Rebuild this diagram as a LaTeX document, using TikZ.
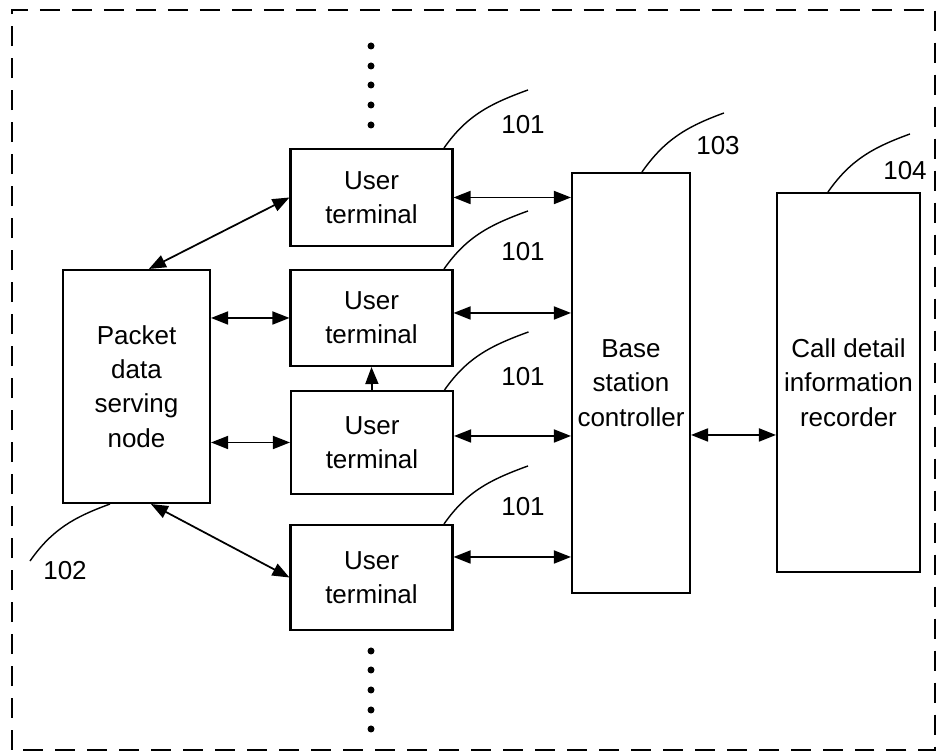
\documentclass[tikz,border=0pt]{standalone}
\usepackage{fontspec}
\setmainfont{Liberation Sans}
\usetikzlibrary{arrows.meta}

\begin{document}
\begin{tikzpicture}[x=0.02cm, y=0.02cm,
  font=\fontsize{14.8}{19.5}\selectfont,
  >={Triangle[length=0.34cm,width=0.26cm]},
  box/.style={draw, line width=1.2pt, align=center, inner sep=0pt},
  link/.style={line width=1pt},
  lead/.style={line width=0.8pt},
  num/.style={inner sep=0pt}]

\useasboundingbox (0,0) rectangle (938,753);

% Dashed frame round the whole system
\draw[line width=1pt, dash pattern=on 0.4cm off 0.24cm] (12,3) rectangle (935,743);

% Blocks
\node[box, minimum width=2.94cm, minimum height=4.66cm] (pdsn) at (136.5,366.5) {Packet\\data\\serving\\node}; % 102
\node[box, minimum width=3.24cm, minimum height=1.94cm] (ut1) at (371.5,555.5) {User\\terminal}; % 101
\node[box, minimum width=3.24cm, minimum height=1.92cm] (ut2) at (371.5,435) {User\\terminal};
\node[box, minimum width=3.24cm, minimum height=2.06cm] (ut3) at (372,310.5) {User\\terminal};
\node[box, minimum width=3.24cm, minimum height=2.10cm] (ut4) at (371.5,175.5) {User\\terminal};
\node[box, minimum width=2.36cm, minimum height=8.4cm] (bsc) at (631,370) {Base\\station\\controller}; % 103
\node[box, minimum width=2.86cm, minimum height=7.58cm] (cdir) at (848.5,370.5) {Call detail\\information\\recorder}; % 104

% More user terminals above and below
\foreach \y in {707,687,668,648,628} \fill (371,\y) circle (3.5);
\foreach \y in {102,83,63,43,24} \fill (371,\y) circle (3.5);

% PDSN <-> user terminals
\draw[link, <->] (pdsn.84) -- (ut1.west);
\draw[link, <->] (pdsn.east |- ut2.west) -- (ut2.west);
\draw[link, <->] (pdsn.east |- ut3.west) -- (ut3.west);
\draw[link, <->] (pdsn.-83) -- (ut4.west);

% User terminals <-> base station controller
\draw[link, <->] (ut1.east) -- (ut1.east -| bsc.west);
\draw[link, <->] ([yshift=0.1cm]ut2.east) -- ([yshift=0.1cm]ut2.east -| bsc.west);
\draw[link, <->] ([yshift=0.13cm]ut3.east) -- ([yshift=0.13cm]ut3.east -| bsc.west);
\draw[link, <->] ([yshift=0.41cm]ut4.east) -- ([yshift=0.41cm]ut4.east -| bsc.west);
\draw[link, ->] (ut3.north) -- (ut2.south);

% BSC <-> call detail information recorder
\draw[link, <->] ([yshift=-1.04cm]bsc.east) -- ([yshift=-1.04cm]bsc.east -| cdir.west);

% Reference numerals
\draw[lead] ([xshift=-0.19cm]ut1.north east) to[out=55,in=200] ++(84,58);
\draw[lead] ([xshift=-0.19cm]ut2.north east) to[out=55,in=200] ++(84,58);
\draw[lead] ([xshift=-0.19cm]ut3.north east) to[out=55,in=200] ++(84,58);
\draw[lead] ([xshift=-0.19cm]ut4.north east) to[out=55,in=200] ++(84,58);
\draw[lead] ([xshift=0.22cm]bsc.north) to[out=55,in=200] ++(82,59);
\draw[lead] ([xshift=-0.41cm]cdir.north) to[out=55,in=200] ++(82,58);
\draw[lead] ([xshift=-0.53cm]pdsn.south) to[out=200,in=55] ++(-80,-57);

\node[num] (n101a) at (523,628) {101};
\node[num] (n101b) at (523,501) {101};
\node[num] (n101c) at (523,376) {101};
\node[num] (n101d) at (523,246) {101};
\node[num] (n103) at (718,607) {103};
\node[num] (n104) at (905,582) {104};
\node[num] (n102) at (65,182) {102};

\end{tikzpicture}
\end{document}
